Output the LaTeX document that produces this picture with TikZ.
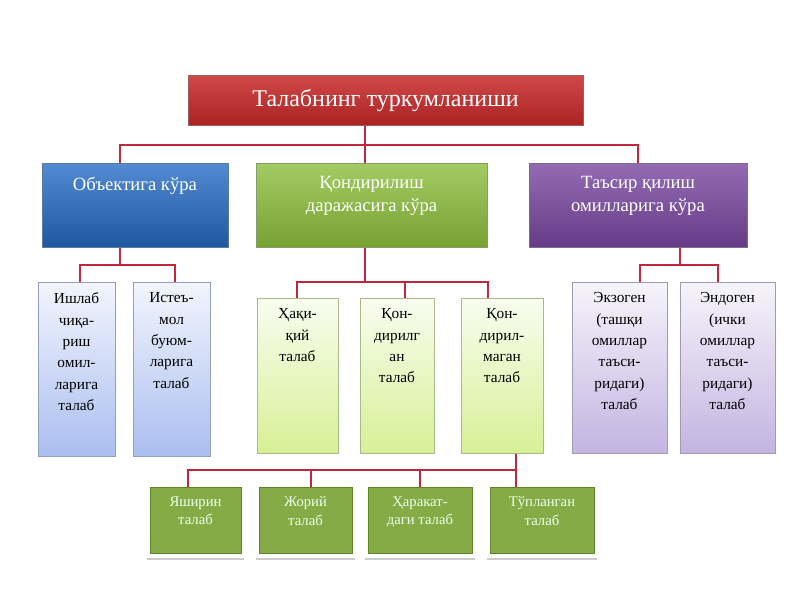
\documentclass[tikz,border=0pt]{standalone}
\usepackage{fontspec}
\setmainfont{Liberation Serif}
\begin{document}
\begin{tikzpicture}[x=0.75pt,y=-0.75pt,
 bx/.style={draw=#1!60!black!70, line width=0.6pt},
 ln/.style={draw={rgb,255:red,190;green,40;blue,60}, line width=1.5pt},
 wt/.style={text=white, align=center, font=\fontsize{14}{17}\selectfont},
 bt/.style={text=black, align=center, font=\fontsize{11.5}{16}\selectfont},
 gt/.style={text=white!92!green, align=center, font=\fontsize{11}{14}\selectfont}]
\definecolor{rd}{RGB}{200,40,40}
\definecolor{bl}{RGB}{40,110,200}
\definecolor{gr}{RGB}{140,190,60}
\definecolor{pu}{RGB}{120,70,160}
\definecolor{lb}{RGB}{170,190,240}
\definecolor{lg}{RGB}{215,240,150}
\definecolor{lp}{RGB}{195,180,225}
\useasboundingbox (0,0) rectangle (800,600);
% connectors
\coordinate (j1) at (365,145);
\draw[ln] (365,125) -- (j1);
\draw[ln] (120,163) -- (120,145) -- (638,145) -- (638,163);
\draw[ln] (365,145) -- (365,163);
\draw[ln] (120,247) -- (120,265);
\draw[ln] (80,282) -- (80,265) -- (175,265) -- (175,282);
\draw[ln] (365,247) -- (365,282);
\draw[ln] (297,298) -- (297,282) -- (488,282) -- (488,298);
\draw[ln] (405,282) -- (405,298);
\draw[ln] (680,247) -- (680,265);
\draw[ln] (640,282) -- (640,265) -- (718,265) -- (718,282);
\draw[ln] (516,453) -- (516,487);
\draw[ln] (188,487) -- (188,470) -- (516,470);
\draw[ln] (311,470) -- (311,487);
\draw[ln] (420,470) -- (420,487);
% top
\node[bx=rd, top color=rd!85!white, bottom color=rd!85!black, minimum width=395*0.75pt, minimum height=50*0.75pt, wt, font=\fontsize{18}{20}\selectfont] (top) at (385.5,100) {Талабнинг туркумланиши};
% level 2
\fill[bl!80!black] (42,163) rectangle (228,247);
\node[bx=bl, top color=bl!80!white, bottom color=bl!80!black, minimum width=186*0.75pt, minimum height=84*0.75pt] (b) at (135,205) {};
\node[wt, anchor=north] (bt1) at (135,172) {Объектига кўра};
\node[bx=gr, top color=gr!80!white, bottom color=gr!85!black, minimum width=231*0.75pt, minimum height=84*0.75pt] (g) at (371.5,205) {};
\node[wt, anchor=north] (gt1) at (371.5,172) {Қондирилиш\\даражасига кўра};
\node[bx=pu, top color=pu!80!white, bottom color=pu!85!black, minimum width=218*0.75pt, minimum height=84*0.75pt] (p) at (638,205) {};
\node[wt, anchor=north] (pt1) at (638,172) {Таъсир қилиш\\омилларига кўра};
% level 3
\foreach \n/\xa/\xb/\ya/\yb/\c/\t in {
 b1/38/115/282/456/lb/{Ишлаб\\чиқа-\\риш\\омил-\\ларига\\талаб},
 b2/133/210/282/456/lb/{Истеъ-\\мол\\буюм-\\ларига\\талаб},
 g1/257/338/298/453/lg/{Ҳақи-\\қий\\талаб},
 g2/360/434/298/453/lg/{Қон-\\дирилг\\ан\\талаб},
 g3/461/543/298/453/lg/{Қон-\\дирил-\\маган\\талаб},
 p1/572/667/282/453/lp/{Экзоген\\(ташқи\\омиллар\\таъси-\\ридаги)\\талаб},
 p2/680/775/282/453/lp/{Эндоген\\(ички\\омиллар\\таъси-\\ридаги)\\талаб}}{
 \node[draw=\c!50!gray, top color=white!85!\c, bottom color=\c, minimum width={(\xb-\xa)*0.75pt}, minimum height={(\yb-\ya)*0.75pt}] (\n) at ({(\xa+\xb)/2},{(\ya+\yb)/2}) {};
 \node[bt, anchor=north] (\n t) at ({(\xa+\xb)/2},{\ya+6}) {\t};
}
% bottom
\foreach \n/\xa/\xb/\t in {
 k1/150/241/{Яширин\\талаб},
 k2/259/352/{Жорий\\талаб},
 k3/368/472/{Ҳаракат-\\даги талаб},
 k4/490/594/{Тўпланган\\талаб}}{
 \node[draw=gr!70!black, fill=gr!85!black!90, minimum width={(\xb-\xa)*0.75pt}, minimum height={66*0.75pt}] (\n) at ({(\xa+\xb)/2},520) {};
 \node[gt, anchor=north] (\n t) at ({(\xa+\xb)/2},492) {\t};
 \draw[gray!40, line width=1pt] ({\xa-3},559) -- ({\xb+3},559);
}
\end{tikzpicture}
\end{document}
